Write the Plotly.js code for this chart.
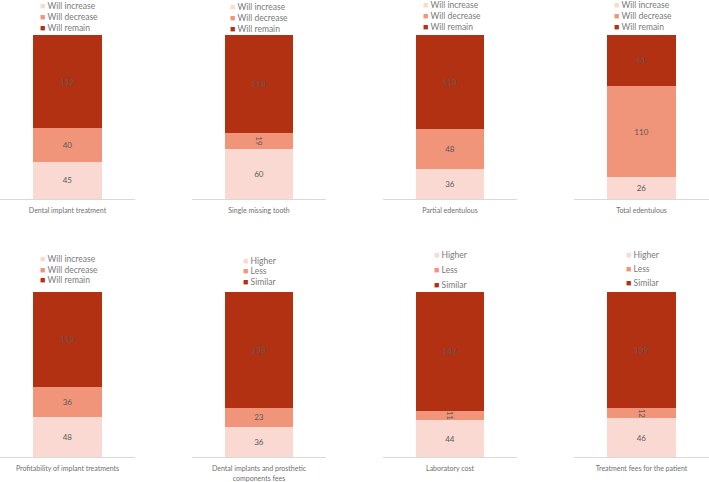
<!DOCTYPE html>
<html>
<head>
<meta charset="utf-8">
<script src="https://cdn.plot.ly/plotly-3.0.1.min.js"></script>
<style>html,body{margin:0;padding:0;background:#fff;}#chart{width:709px;height:482px;}</style>
</head>
<body>
<div id="chart"></div>
<script>
// ---- data ----
const categories = [
  'Dental implant treatment',
  'Single missing tooth',
  'Partial edentulous',
  'Total edentulous',
  'Profitability of implant treatments',
  'Dental implants and prosthetic<br>components fees',
  'Laboratory cost',
  'Treatment fees for the patient'
];
const increaseValues = [45, 60, 36, 26, 48, 36, 44, 46];
const decreaseValues = [40, 19, 48, 110, 36, 23, 11, 12];
const remainValues   = [112, 118, 113, 61, 113, 138, 142, 139];
const seriesNamesA = ['Will increase', 'Will decrease', 'Will remain'];
const seriesNamesB = ['Higher', 'Less', 'Similar'];
const panelNameSet = ['A', 'A', 'A', 'A', 'A', 'B', 'B', 'B'];

// ---- styling / layout ----
const W = 709, H = 482;
const colors = ['#F9D9D2', '#F1957A', '#B33113'];
const FONT = 'Lato, "Open Sans", sans-serif';
const panelX = [[0, 135], [192, 326], [383, 517], [574, 709]];
const rowY = [[35, 199], [292, 457]];
const legendMarkerX = [43, 233, 426, 617, 43, 246, 437, 629];
const legendRowsY = [
  [6, 17, 27], [7, 18, 28], [5, 16, 26], [5, 16, 26],
  [258, 269, 279], [260, 270, 281], [254, 269, 284], [254, 268, 282]
];

const px2x = p => p / W;
const px2y = p => 1 - p / H;

const traces = [];
const layout = {
  width: W, height: H,
  margin: {l: 0, r: 0, t: 0, b: 0},
  paper_bgcolor: '#fff', plot_bgcolor: '#fff',
  barmode: 'stack',
  showlegend: false,
  font: {family: FONT, color: '#7a7a7a'},
  annotations: []
};

const seriesValues = [increaseValues, decreaseValues, remainValues];

categories.forEach((cat, i) => {
  const n = i + 1;
  const ax = n === 1 ? '' : String(n);
  const names = panelNameSet[i] === 'A' ? seriesNamesA : seriesNamesB;
  const total = increaseValues[i] + decreaseValues[i] + remainValues[i];
  seriesValues.forEach((vals, s) => {
    traces.push({
      type: 'bar',
      name: names[s],
      x: [cat],
      y: [vals[i]],
      text: [String(vals[i])],
      textposition: 'inside',
      insidetextanchor: 'middle',
      constraintext: 'none',
      textfont: {family: FONT, size: 8, color: '#595959'},
      marker: {color: colors[s], line: {width: 0}},
      width: 0.51,
      xaxis: 'x' + ax,
      yaxis: 'y' + ax,
      hoverinfo: 'skip'
    });
  });
  const col = i % 4, row = Math.floor(i / 4);
  layout['xaxis' + ax] = {
    domain: [px2x(panelX[col][0]), px2x(panelX[col][1])],
    anchor: 'y' + ax,
    type: 'category',
    range: [-0.5, 0.5],
    showline: true, linecolor: '#D9D9D9', linewidth: 1,
    ticks: '', showgrid: false, zeroline: false,
    ticklabelstandoff: 5,
    tickfont: {family: FONT, size: 7, color: '#707070'},
    fixedrange: true
  };
  layout['yaxis' + ax] = {
    domain: [px2y(rowY[row][1]), px2y(rowY[row][0])],
    anchor: 'x' + ax,
    range: [0, total],
    visible: false,
    fixedrange: true
  };
  // legend drawn as text annotations
  names.forEach((nm, s) => {
    layout.annotations.push({
      xref: 'paper', yref: 'paper',
      x: px2x(legendMarkerX[i] - 5), y: px2y(legendRowsY[i][s]),
      xanchor: 'left', yanchor: 'middle',
      showarrow: false,
      text: '<span style="color:' + colors[s] + ';font-size:9px">■</span> ' + nm,
      font: {family: FONT, size: 8.5, color: '#7a7a7a'}
    });
  });
});

Plotly.newPlot('chart', traces, layout, {displayModeBar: false, staticPlot: true});
</script>
</body>
</html>
